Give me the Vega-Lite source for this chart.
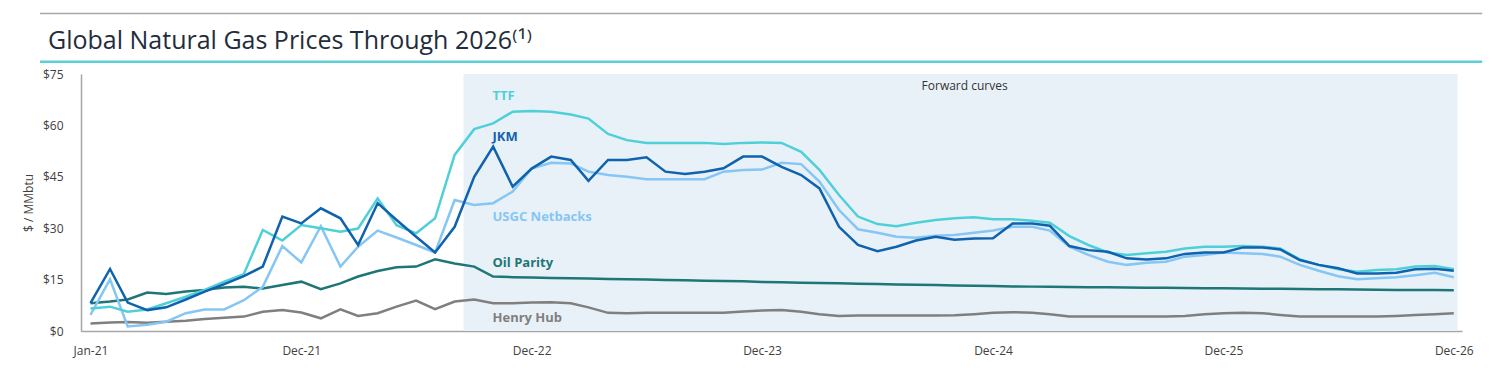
{
  "$schema": "https://vega.github.io/schema/vega-lite/v6.json",
  "width": 1381,
  "height": 257,
  "autosize": {"type": "none"},
  "padding": {"left": 81, "top": 74, "right": 30, "bottom": 39},
  "background": "white",
  "config": {
    "view": {"stroke": null},
    "font": "Open Sans",
    "axis": {"grid": false, "ticks": false, "domainColor": "#a6a6a6", "domainWidth": 1.5, "labelColor": "#404040", "labelFont": "Open Sans", "labelFontSize": 12, "titleFont": "Open Sans", "titleFontSize": 12, "titleFontWeight": "normal", "titleColor": "#404040"}
  },
  "title": {
    "text": "Global Natural Gas Prices Through 2026⁽¹⁾",
    "anchor": "start",
    "frame": "group",
    "dx": -33,
    "dy": 78,
    "offset": 17,
    "baseline": "alphabetic",
    "font": "Open Sans",
    "fontSize": 25,
    "fontWeight": "normal",
    "color": "#1f2d3d"
  },
  "data": {
    "values": [
      {"date": "2021-01-01", "ttf": 6.6, "jkm": 8.1, "usgc": 4.7, "oil": 8.1, "hh": 2.2},
      {"date": "2021-02-01", "ttf": 7.1, "jkm": 18.1, "usgc": 15.1, "oil": 8.6, "hh": 2.5},
      {"date": "2021-03-01", "ttf": 5.6, "jkm": 8.3, "usgc": 1.3, "oil": 9.2, "hh": 2.6},
      {"date": "2021-04-01", "ttf": 6.3, "jkm": 6.1, "usgc": 1.8, "oil": 11.2, "hh": 2.4},
      {"date": "2021-05-01", "ttf": 8.1, "jkm": 6.9, "usgc": 2.7, "oil": 10.8, "hh": 2.7},
      {"date": "2021-06-01", "ttf": 10.0, "jkm": 9.2, "usgc": 5.2, "oil": 11.5, "hh": 3.0},
      {"date": "2021-07-01", "ttf": 12.0, "jkm": 11.5, "usgc": 6.3, "oil": 12.0, "hh": 3.5},
      {"date": "2021-08-01", "ttf": 14.4, "jkm": 13.7, "usgc": 6.3, "oil": 12.7, "hh": 3.9},
      {"date": "2021-09-01", "ttf": 16.6, "jkm": 16.0, "usgc": 9.0, "oil": 12.9, "hh": 4.2},
      {"date": "2021-10-01", "ttf": 29.5, "jkm": 18.8, "usgc": 12.9, "oil": 12.4, "hh": 5.6},
      {"date": "2021-11-01", "ttf": 26.4, "jkm": 33.4, "usgc": 24.8, "oil": 13.4, "hh": 6.1},
      {"date": "2021-12-01", "ttf": 30.9, "jkm": 31.4, "usgc": 20.0, "oil": 14.4, "hh": 5.4},
      {"date": "2022-01-01", "ttf": 30.0, "jkm": 35.8, "usgc": 30.6, "oil": 12.2, "hh": 3.7},
      {"date": "2022-02-01", "ttf": 29.0, "jkm": 32.9, "usgc": 18.8, "oil": 13.9, "hh": 6.3},
      {"date": "2022-03-01", "ttf": 29.9, "jkm": 25.1, "usgc": 24.6, "oil": 15.9, "hh": 4.4},
      {"date": "2022-04-01", "ttf": 38.7, "jkm": 37.3, "usgc": 29.3, "oil": 17.5, "hh": 5.2},
      {"date": "2022-05-01", "ttf": 30.9, "jkm": 32.4, "usgc": 27.3, "oil": 18.6, "hh": 7.1},
      {"date": "2022-06-01", "ttf": 28.5, "jkm": 27.5, "usgc": 25.1, "oil": 18.8, "hh": 8.9},
      {"date": "2022-07-01", "ttf": 32.9, "jkm": 22.9, "usgc": 22.9, "oil": 20.9, "hh": 6.4},
      {"date": "2022-08-01", "ttf": 51.4, "jkm": 30.4, "usgc": 38.2, "oil": 19.7, "hh": 8.6},
      {"date": "2022-09-01", "ttf": 58.9, "jkm": 45.0, "usgc": 36.8, "oil": 18.8, "hh": 9.2},
      {"date": "2022-10-01", "ttf": 60.6, "jkm": 53.8, "usgc": 37.3, "oil": 15.9, "hh": 8.1},
      {"date": "2022-11-01", "ttf": 64.0, "jkm": 42.1, "usgc": 40.7, "oil": 15.7, "hh": 8.1},
      {"date": "2022-12-01", "ttf": 64.2, "jkm": 47.4, "usgc": 47.4, "oil": 15.6, "hh": 8.3},
      {"date": "2023-01-01", "ttf": 64.0, "jkm": 50.9, "usgc": 49.1, "oil": 15.5, "hh": 8.4},
      {"date": "2023-02-01", "ttf": 63.2, "jkm": 49.9, "usgc": 48.9, "oil": 15.4, "hh": 8.1},
      {"date": "2023-03-01", "ttf": 62.0, "jkm": 43.8, "usgc": 46.5, "oil": 15.3, "hh": 6.9},
      {"date": "2023-04-01", "ttf": 57.5, "jkm": 49.9, "usgc": 45.5, "oil": 15.2, "hh": 5.3},
      {"date": "2023-05-01", "ttf": 55.7, "jkm": 49.9, "usgc": 45.0, "oil": 15.1, "hh": 5.2},
      {"date": "2023-06-01", "ttf": 54.9, "jkm": 50.7, "usgc": 44.3, "oil": 15.0, "hh": 5.3},
      {"date": "2023-07-01", "ttf": 54.9, "jkm": 46.5, "usgc": 44.3, "oil": 14.9, "hh": 5.3},
      {"date": "2023-08-01", "ttf": 54.9, "jkm": 45.8, "usgc": 44.3, "oil": 14.8, "hh": 5.3},
      {"date": "2023-09-01", "ttf": 54.9, "jkm": 46.5, "usgc": 44.3, "oil": 14.7, "hh": 5.3},
      {"date": "2023-10-01", "ttf": 54.6, "jkm": 47.5, "usgc": 46.5, "oil": 14.6, "hh": 5.3},
      {"date": "2023-11-01", "ttf": 54.9, "jkm": 50.9, "usgc": 47.0, "oil": 14.5, "hh": 5.7},
      {"date": "2023-12-01", "ttf": 55.0, "jkm": 50.9, "usgc": 47.1, "oil": 14.3, "hh": 6.0},
      {"date": "2024-01-01", "ttf": 54.9, "jkm": 47.9, "usgc": 49.1, "oil": 14.2, "hh": 6.1},
      {"date": "2024-02-01", "ttf": 52.3, "jkm": 45.5, "usgc": 48.7, "oil": 14.1, "hh": 5.6},
      {"date": "2024-03-01", "ttf": 47.0, "jkm": 41.6, "usgc": 43.6, "oil": 14.0, "hh": 4.9},
      {"date": "2024-04-01", "ttf": 39.7, "jkm": 30.4, "usgc": 35.3, "oil": 13.9, "hh": 4.4},
      {"date": "2024-05-01", "ttf": 33.4, "jkm": 25.1, "usgc": 29.7, "oil": 13.8, "hh": 4.5},
      {"date": "2024-06-01", "ttf": 31.2, "jkm": 23.3, "usgc": 28.7, "oil": 13.7, "hh": 4.5},
      {"date": "2024-07-01", "ttf": 30.6, "jkm": 24.6, "usgc": 27.5, "oil": 13.6, "hh": 4.5},
      {"date": "2024-08-01", "ttf": 31.6, "jkm": 26.4, "usgc": 27.2, "oil": 13.5, "hh": 4.5},
      {"date": "2024-09-01", "ttf": 32.4, "jkm": 27.5, "usgc": 27.8, "oil": 13.4, "hh": 4.5},
      {"date": "2024-10-01", "ttf": 32.9, "jkm": 26.6, "usgc": 28.0, "oil": 13.3, "hh": 4.6},
      {"date": "2024-11-01", "ttf": 33.2, "jkm": 27.0, "usgc": 28.7, "oil": 13.2, "hh": 4.9},
      {"date": "2024-12-01", "ttf": 32.6, "jkm": 27.1, "usgc": 29.3, "oil": 13.1, "hh": 5.3},
      {"date": "2025-01-01", "ttf": 32.6, "jkm": 31.4, "usgc": 30.4, "oil": 13.0, "hh": 5.5},
      {"date": "2025-02-01", "ttf": 32.2, "jkm": 31.4, "usgc": 30.4, "oil": 12.95, "hh": 5.3},
      {"date": "2025-03-01", "ttf": 31.6, "jkm": 30.7, "usgc": 29.3, "oil": 12.9, "hh": 4.9},
      {"date": "2025-04-01", "ttf": 27.7, "jkm": 24.8, "usgc": 24.6, "oil": 12.85, "hh": 4.2},
      {"date": "2025-05-01", "ttf": 25.1, "jkm": 23.6, "usgc": 22.2, "oil": 12.8, "hh": 4.2},
      {"date": "2025-06-01", "ttf": 22.9, "jkm": 23.1, "usgc": 20.2, "oil": 12.75, "hh": 4.2},
      {"date": "2025-07-01", "ttf": 22.2, "jkm": 21.2, "usgc": 19.3, "oil": 12.7, "hh": 4.2},
      {"date": "2025-08-01", "ttf": 22.7, "jkm": 20.9, "usgc": 19.9, "oil": 12.65, "hh": 4.2},
      {"date": "2025-09-01", "ttf": 23.1, "jkm": 21.2, "usgc": 20.2, "oil": 12.6, "hh": 4.2},
      {"date": "2025-10-01", "ttf": 24.1, "jkm": 22.5, "usgc": 21.7, "oil": 12.55, "hh": 4.4},
      {"date": "2025-11-01", "ttf": 24.6, "jkm": 22.9, "usgc": 22.2, "oil": 12.5, "hh": 4.9},
      {"date": "2025-12-01", "ttf": 24.6, "jkm": 22.9, "usgc": 22.9, "oil": 12.45, "hh": 5.2},
      {"date": "2026-01-01", "ttf": 24.8, "jkm": 24.4, "usgc": 22.7, "oil": 12.4, "hh": 5.3},
      {"date": "2026-02-01", "ttf": 24.6, "jkm": 24.4, "usgc": 22.5, "oil": 12.35, "hh": 5.2},
      {"date": "2026-03-01", "ttf": 24.1, "jkm": 23.8, "usgc": 21.7, "oil": 12.3, "hh": 4.7},
      {"date": "2026-04-01", "ttf": 20.9, "jkm": 20.7, "usgc": 19.3, "oil": 12.25, "hh": 4.2},
      {"date": "2026-05-01", "ttf": 19.3, "jkm": 19.3, "usgc": 17.6, "oil": 12.2, "hh": 4.2},
      {"date": "2026-06-01", "ttf": 18.0, "jkm": 18.3, "usgc": 16.0, "oil": 12.15, "hh": 4.2},
      {"date": "2026-07-01", "ttf": 17.3, "jkm": 16.8, "usgc": 15.1, "oil": 12.1, "hh": 4.2},
      {"date": "2026-08-01", "ttf": 17.8, "jkm": 16.8, "usgc": 15.4, "oil": 12.05, "hh": 4.2},
      {"date": "2026-09-01", "ttf": 18.0, "jkm": 17.0, "usgc": 15.7, "oil": 12.0, "hh": 4.4},
      {"date": "2026-10-01", "ttf": 18.8, "jkm": 18.0, "usgc": 16.3, "oil": 12.0, "hh": 4.7},
      {"date": "2026-11-01", "ttf": 19.0, "jkm": 18.2, "usgc": 17.0, "oil": 11.95, "hh": 4.9},
      {"date": "2026-12-01", "ttf": 18.0, "jkm": 17.6, "usgc": 15.7, "oil": 11.9, "hh": 5.2}
    ]
  },
  "layer": [
    {
      "data": {"values": [{}]},
      "mark": {"type": "rect", "color": "#e9f1f8"},
      "encoding": {
        "x": {"datum": {"year": 2022, "month": 8, "date": 15, "utc": true}, "type": "temporal",
          "scale": {"type": "utc", "domain": [{"year": 2020, "month": 12, "date": 17, "utc": true}, {"year": 2026, "month": 12, "date": 14, "utc": true}], "nice": false},
          "axis": {"title": null, "format": "%b-%y", "labelPadding": 14,
            "values": [{"year": 2021, "month": 1, "date": 1, "utc": true}, {"year": 2021, "month": 12, "date": 1, "utc": true}, {"year": 2022, "month": 12, "date": 1, "utc": true}, {"year": 2023, "month": 12, "date": 1, "utc": true}, {"year": 2024, "month": 12, "date": 1, "utc": true}, {"year": 2025, "month": 12, "date": 1, "utc": true}, {"year": 2026, "month": 12, "date": 1, "utc": true}]}},
        "x2": {"datum": {"year": 2026, "month": 12, "date": 7, "utc": true}},
        "y": {"datum": 0, "type": "quantitative",
          "scale": {"domain": [0, 75], "nice": false, "zero": true},
          "axis": {"title": "$ / MMbtu", "values": [0, 15, 30, 45, 60, 75], "labelExpr": "'$' + datum.value", "labelPadding": 18, "titlePadding": 7}},
        "y2": {"datum": 75}
      }
    },
    {
      "data": {"values": [{}]},
      "mark": {"type": "rule", "color": "#a6a6a6", "strokeWidth": 1.5},
      "encoding": {
        "x": {"datum": {"year": 2020, "month": 10, "date": 13, "utc": true}, "type": "temporal"},
        "x2": {"datum": {"year": 2027, "month": 1, "date": 15, "utc": true}},
        "y": {"datum": 92.65, "type": "quantitative"}
      }
    },
    {
      "data": {"values": [{}]},
      "mark": {"type": "rule", "color": "#5ccfd9", "strokeWidth": 2.5},
      "encoding": {
        "x": {"datum": {"year": 2020, "month": 10, "date": 13, "utc": true}, "type": "temporal"},
        "x2": {"datum": {"year": 2027, "month": 1, "date": 15, "utc": true}},
        "y": {"datum": 78.58, "type": "quantitative"}
      }
    },
    {
      "transform": [{"fold": ["hh", "oil", "usgc", "ttf", "jkm"], "as": ["series", "price"]}],
      "mark": {"type": "line", "strokeWidth": 2.5, "strokeJoin": "miter"},
      "encoding": {
        "x": {"field": "date", "type": "temporal"},
        "y": {"field": "price", "type": "quantitative"},
        "color": {"field": "series", "type": "nominal", "legend": null,
          "scale": {"domain": ["hh", "oil", "usgc", "ttf", "jkm"], "range": ["#7f7f7f", "#1e7676", "#85c6f4", "#4fd0d8", "#0f62ad"]}}
      }
    },
    {
      "data": {"values": [{}]},
      "mark": {"type": "text", "text": "TTF", "align": "left", "baseline": "middle", "fontWeight": "bold", "fontSize": 13, "color": "#4fd0d8"},
      "encoding": {"x": {"datum": {"year": 2022, "month": 9, "date": 30, "utc": true}, "type": "temporal"}, "y": {"datum": 68.6, "type": "quantitative"}}
    },
    {
      "data": {"values": [{}]},
      "mark": {"type": "text", "text": "JKM", "align": "left", "baseline": "middle", "fontWeight": "bold", "fontSize": 13, "color": "#0f62ad"},
      "encoding": {"x": {"datum": {"year": 2022, "month": 9, "date": 30, "utc": true}, "type": "temporal"}, "y": {"datum": 56.6, "type": "quantitative"}}
    },
    {
      "data": {"values": [{}]},
      "mark": {"type": "text", "text": "USGC Netbacks", "align": "left", "baseline": "middle", "fontWeight": "bold", "fontSize": 13, "color": "#85c6f4"},
      "encoding": {"x": {"datum": {"year": 2022, "month": 9, "date": 30, "utc": true}, "type": "temporal"}, "y": {"datum": 33.3, "type": "quantitative"}}
    },
    {
      "data": {"values": [{}]},
      "mark": {"type": "text", "text": "Oil Parity", "align": "left", "baseline": "middle", "fontWeight": "bold", "fontSize": 13, "color": "#1e7676"},
      "encoding": {"x": {"datum": {"year": 2022, "month": 9, "date": 30, "utc": true}, "type": "temporal"}, "y": {"datum": 19.8, "type": "quantitative"}}
    },
    {
      "data": {"values": [{}]},
      "mark": {"type": "text", "text": "Henry Hub", "align": "left", "baseline": "middle", "fontWeight": "bold", "fontSize": 13, "color": "#7f7f7f"},
      "encoding": {"x": {"datum": {"year": 2022, "month": 9, "date": 30, "utc": true}, "type": "temporal"}, "y": {"datum": 3.7, "type": "quantitative"}}
    },
    {
      "data": {"values": [{}]},
      "mark": {"type": "text", "text": "Forward curves", "align": "center", "baseline": "middle", "fontSize": 12, "color": "#333333"},
      "encoding": {"x": {"datum": {"year": 2024, "month": 10, "date": 17, "utc": true}, "type": "temporal"}, "y": {"datum": 71.6, "type": "quantitative"}}
    }
  ]
}
